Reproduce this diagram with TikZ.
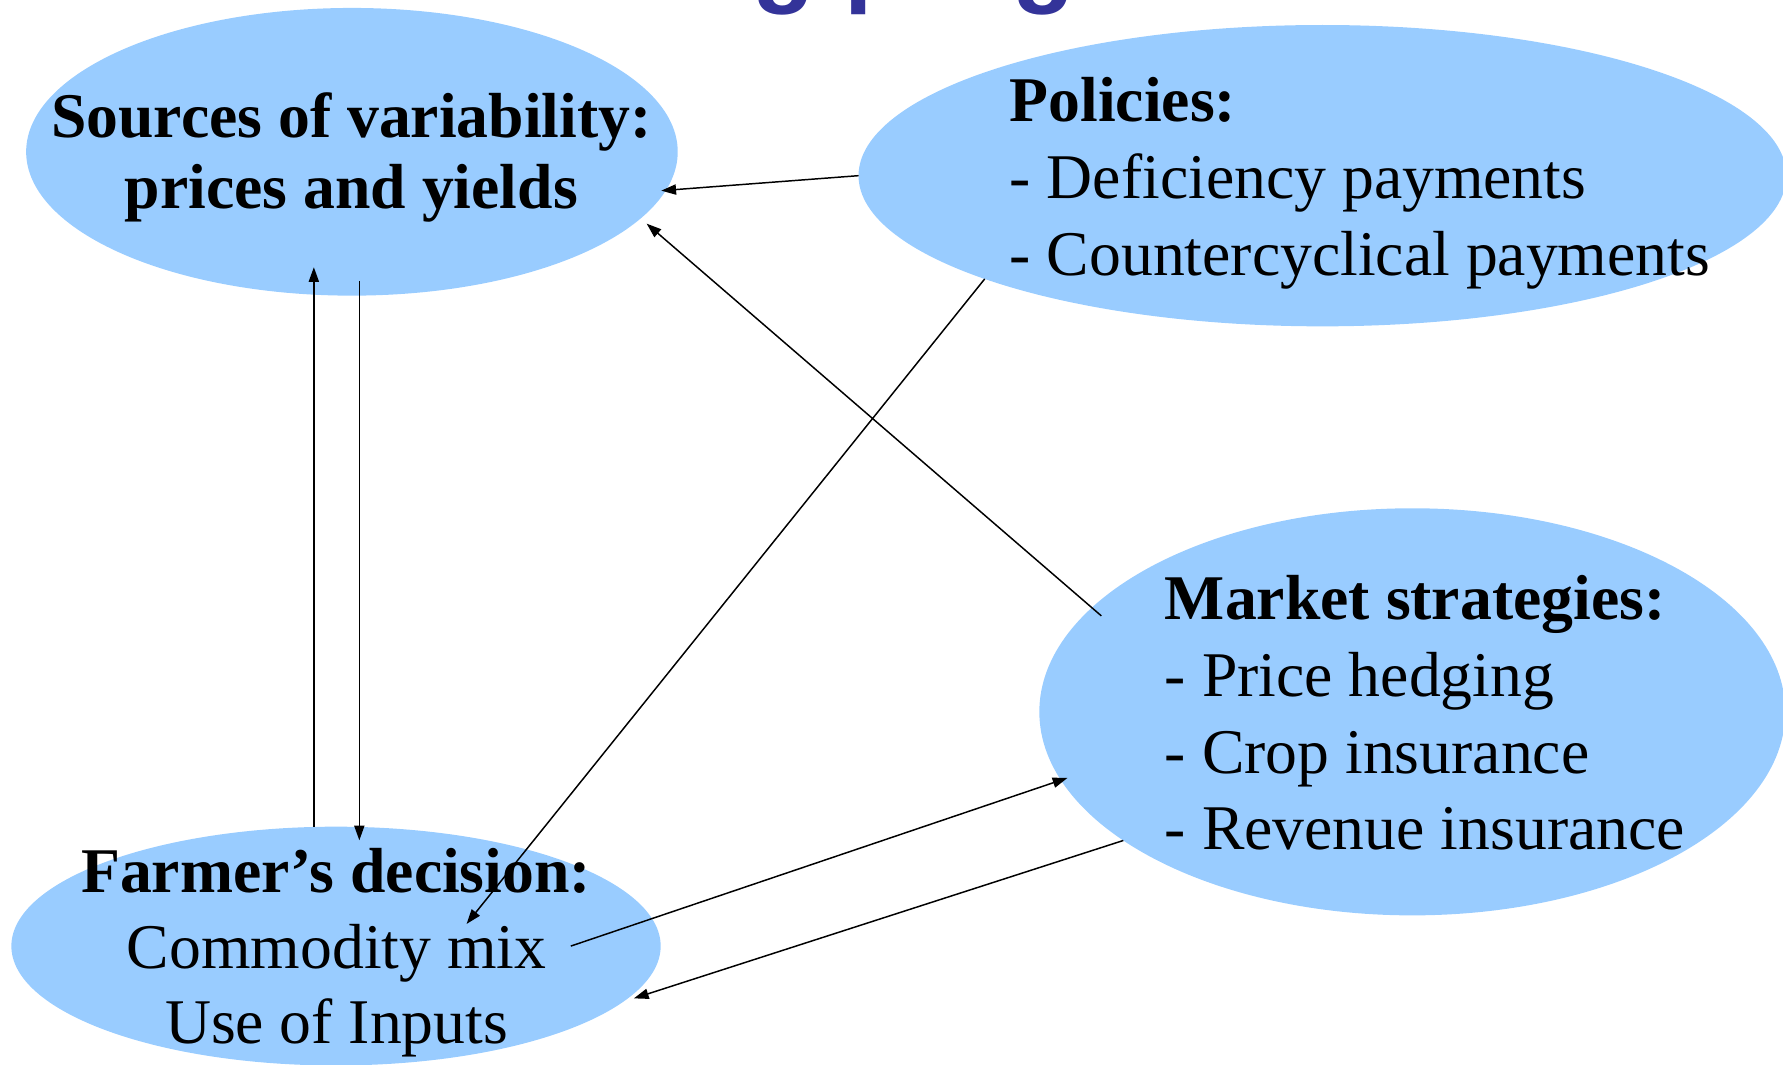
\documentclass[tikz,border=0pt]{standalone}
\usepackage{fontspec}
\setmainfont{Liberation Serif}
\newfontfamily\headingfont{Liberation Sans}
\usetikzlibrary{shapes.geometric,arrows.meta,calc}
\definecolor{bubble}{HTML}{99CCFF}
\definecolor{titleblue}{HTML}{333399}

\begin{document}
\begin{tikzpicture}[x=1pt,y=1pt,
  bubble/.style={ellipse, fill=bubble, draw=none, inner sep=0pt, outer sep=0pt},
  txt/.style={inner sep=0pt, outer sep=0pt, font=\fontsize{56}{67}\selectfont},
  boldtxt/.style={inner sep=0pt, outer sep=0pt, font=\fontsize{56}{67}\selectfont\bfseries},
  link/.style={-{Triangle[length=13pt,width=9pt]}, line width=1.3pt, draw=black},
  glyph/.style={inner sep=0pt, outer sep=0pt, anchor=base west, text=titleblue,
                font=\fontsize{90}{90}\headingfont\bfseries}
]
\useasboundingbox (0,0) rectangle (1568,936);
\clip (0,0) rectangle (1568,936);

% heading letters running off the top edge
\node[glyph] (tg1) at (662,942) {g};
\node[glyph] (tp)  at (743,942) {p};
\node[glyph] (tg2) at (890,942) {g};

% bubbles
\node[bubble, minimum width=573pt, minimum height=253pt] (S) at (309.5,802.5) {};
\node[bubble, minimum width=816pt, minimum height=265pt] (P) at (1163,781.5) {};
\node[bubble, minimum width=656pt, minimum height=358pt] (M) at (1242,310) {};
\node[bubble, minimum width=571pt, minimum height=210pt] (F) at (295.5,104) {};

% Sources of variability
\node[boldtxt, anchor=base] (s1) at (309,815.2) {Sources of variability:};
\node[boldtxt, anchor=base] (s2) at (309,752.8) {prices and yields};

% Policies
\node[boldtxt, anchor=base west] (p1) at (888,829) {Policies:};
\node[txt, anchor=base west] (p2) at (888,761) {- Deficiency payments};
\node[txt, anchor=base west] (p3) at (888,693.5) {- Countercyclical payments};

% Market strategies
\node[boldtxt, anchor=base west] (m1) at (1024.5,391) {Market strategies:};
\node[txt, anchor=base west] (m2) at (1024.5,323.3) {- Price hedging};
\node[txt, anchor=base west] (m3) at (1024.5,256) {- Crop insurance};
\node[txt, anchor=base west] (m4) at (1024.5,189) {- Revenue insurance};

% Farmer's decision
\node[boldtxt, anchor=base] (f1) at (295.5,151) {Farmer’s decision:};
\node[txt, anchor=base] (comm) at (296,84.6) {Commodity mix};
\node[txt, anchor=base] (f3) at (296,18.5) {Use of Inputs};

% connectors
\draw[link, shorten >=-4pt] (P.180) -- (S.-7);
\draw[link, shorten <=-11pt, shorten >=7pt] (M.162.6) -- (S.-13.3);
\draw[link] (P.197) -- ($(comm.north west)!0.81!(comm.north east)$);
\draw[link] ([xshift=-19.5pt]F.north) -- ([xshift=-33.5pt,yshift=25pt]S.south);
\draw[link] ([xshift=6.5pt,yshift=13pt]S.south) -- ([xshift=20.5pt,yshift=-12pt]F.north);
\draw[link, shorten >=-6pt] ([xshift=206.5pt]F.center) -- (M.191.2);
\draw[link, shorten >=10pt] (M.204.7) -- (F.-11.25);
\end{tikzpicture}
\end{document}
